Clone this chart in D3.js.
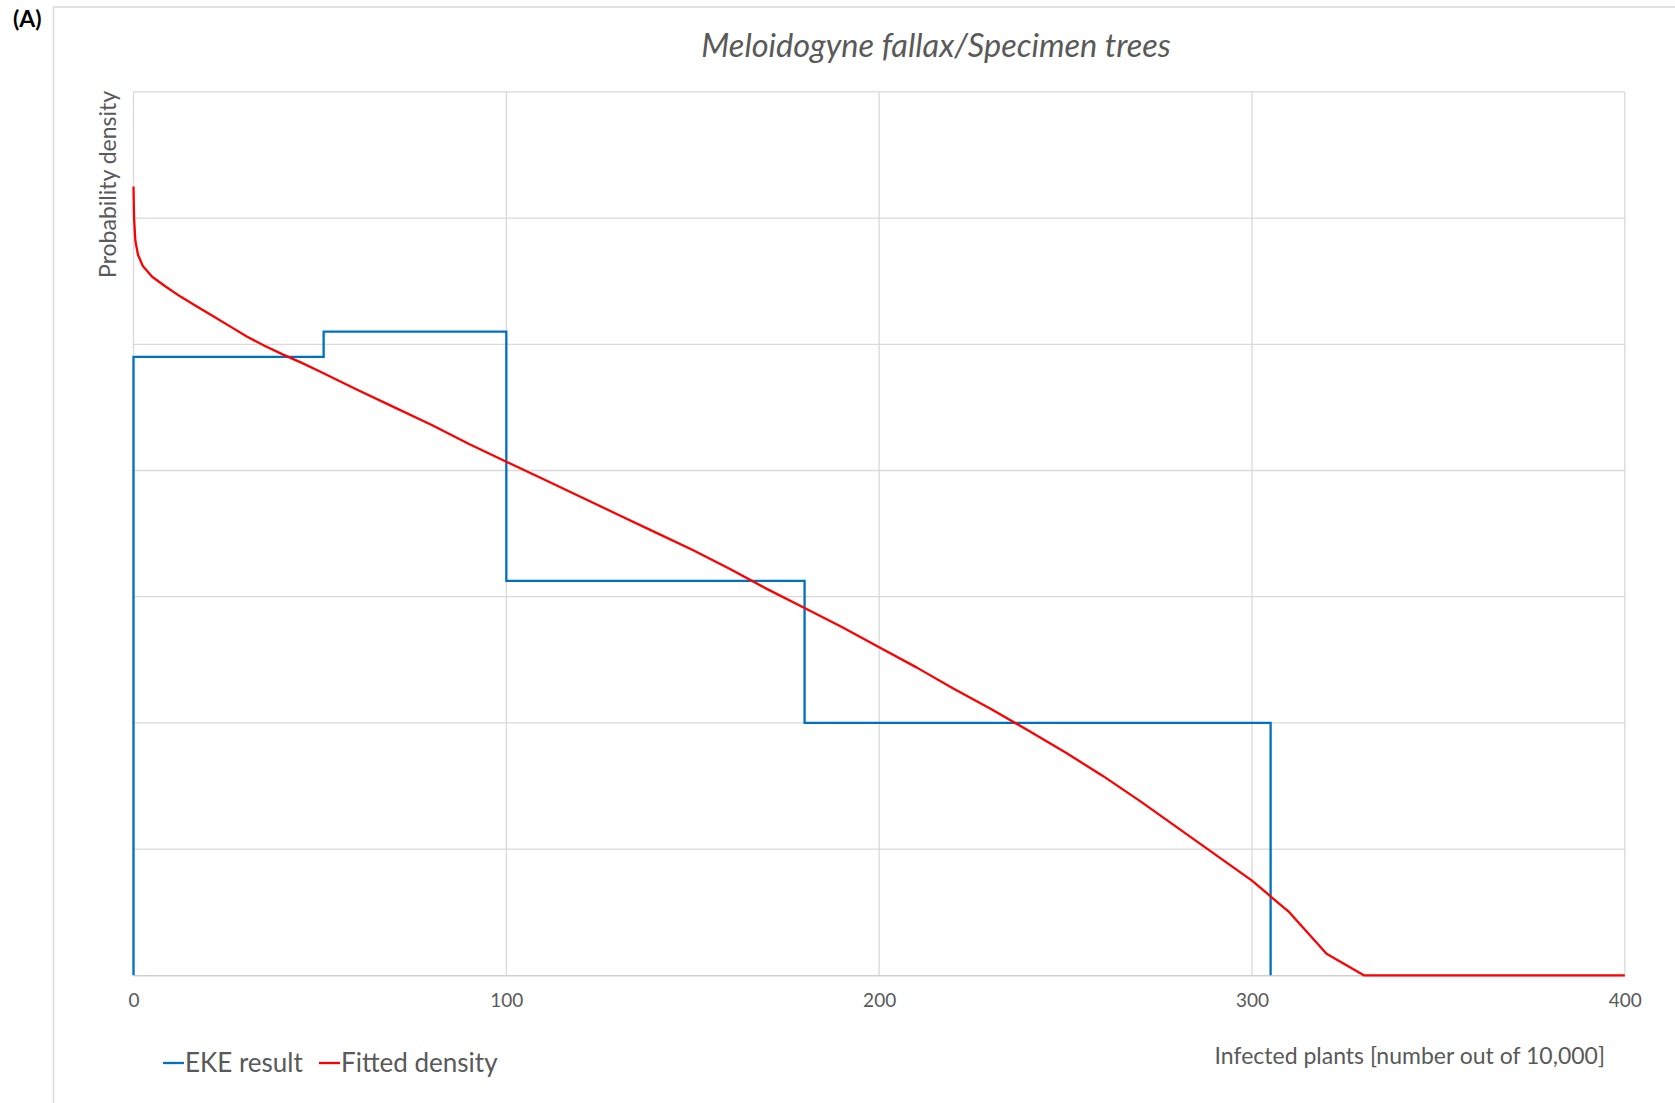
<!DOCTYPE html>
<html>
<head>
<meta charset="utf-8">
<script src="https://cdn.jsdelivr.net/npm/d3@7"></script>
<style>
  html, body { margin: 0; padding: 0; background: #fff; }
  svg { display: block; font-family: Lato, "Open Sans", sans-serif; }
</style>
</head>
<body>
<svg id="svg" width="1675" height="1103"></svg>
<script>
// EKE result: bin edges and density of each bin (25% probability each)
var ekeEdges = [0, 51, 100, 180, 305];
var ekeDensity = [0.0049, 0.0051, 0.003125, 0.002];

// fitted density
var fitX = [0, 0.15, 0.5, 1.2, 2.5, 5, 8.5, 12.5, 17, 21.5, 26, 30.5, 35, 40, 45, 50, 60, 70, 80, 90, 100,
  110, 120, 130, 140, 150, 160, 170, 180, 190, 200, 210, 220, 230, 240, 250, 260, 270,
  280, 290, 300, 310, 320, 330, 340, 350, 360, 370, 380, 390, 400];
var fitY = [0.00625, 0.006, 0.00582, 0.00571, 0.00562, 0.005535, 0.00546, 0.00538, 0.0053,
  0.00522, 0.00514, 0.00506, 0.00499, 0.00492, 0.004855, 0.004785, 0.00464, 0.0045, 0.00436, 0.00421,
  0.00407, 0.00393, 0.00379, 0.00365, 0.00351, 0.00337, 0.00322, 0.00306, 0.00291, 0.00276,
  0.0026, 0.00244, 0.00227, 0.00211, 0.00194, 0.001765, 0.00158, 0.00138, 0.00117, 0.00096,
  0.00075, 0.0005, 0.00017, 0, 0, 0, 0, 0, 0, 0, 0];

var xTicks = [0, 100, 200, 300, 400];
var yTicks = [0, 0.001, 0.002, 0.003, 0.004, 0.005, 0.006, 0.007];

var title = "Meloidogyne fallax/Specimen trees";
var xTitle = "Infected plants [number out of 10,000]";
var yTitle = "Probability density";
var seriesNames = ["EKE result", "Fitted density"];
var seriesColors = ["#0070C0", "#FF0000"];

(function (d3) {
  var svg = d3.select("#svg");
  var textColor = "#595959";
  var gridColor = "#d9d9d9";

  // outer chart frame
  svg.append("rect")
    .attr("x", 53.5).attr("y", 7)
    .attr("width", 1700).attr("height", 1200)
    .attr("fill", "none")
    .attr("stroke", "#d9d9d9")
    .attr("stroke-width", 1.5);

  svg.append("text")
    .attr("x", 13).attr("y", 27)
    .attr("font-size", 23)
    .attr("font-weight", "bold")
    .attr("fill", "#000")
    .text("(A)");

  var x = d3.scaleLinear().domain([0, 400]).range([133.5, 1624.8]);
  var y = d3.scaleLinear().domain([0, 0.007]).range([975.3, 91.9]);

  var grid = svg.append("g").classed("grid", true);
  grid.selectAll("line.h")
    .data(yTicks.slice(1))
    .enter().append("line")
    .attr("x1", x(0)).attr("x2", x(400))
    .attr("y1", d => y(d)).attr("y2", d => y(d))
    .attr("stroke", gridColor)
    .attr("stroke-width", 1.3);
  grid.selectAll("line.v")
    .data(xTicks)
    .enter().append("line")
    .attr("x1", d => x(d)).attr("x2", d => x(d))
    .attr("y1", y(0)).attr("y2", y(0.007))
    .attr("stroke", gridColor)
    .attr("stroke-width", 1.3);

  // x axis (labels only, baseline line)
  var xAxis = svg.append("g")
    .attr("transform", `translate(0,${y(0)})`)
    .call(d3.axisBottom(x).tickValues(xTicks).tickSize(0).tickPadding(18));
  xAxis.select(".domain").attr("stroke", "#cfcfcf").attr("stroke-width", 1.5);
  xAxis.selectAll("text")
    .attr("font-family", "Lato, sans-serif")
    .attr("font-size", 19)
    .attr("fill", textColor);

  // EKE step line
  var ekePts = [[ekeEdges[0], 0]];
  for (var i = 0; i < ekeDensity.length; i++) {
    ekePts.push([ekeEdges[i], ekeDensity[i]]);
    ekePts.push([ekeEdges[i + 1], ekeDensity[i]]);
  }
  ekePts.push([ekeEdges[ekeEdges.length - 1], 0]);

  var line = d3.line()
    .x(d => x(d[0]))
    .y(d => y(d[1]));

  svg.append("path")
    .attr("d", line(ekePts))
    .attr("fill", "none")
    .attr("stroke", seriesColors[0])
    .attr("stroke-width", 2.3);

  var fitPts = fitX.map((v, i) => [v, fitY[i]]);
  svg.append("path")
    .attr("d", line(fitPts))
    .attr("fill", "none")
    .attr("stroke", seriesColors[1])
    .attr("stroke-width", 2.3)
    .attr("stroke-linejoin", "round");

  // titles
  svg.append("text")
    .attr("x", 936).attr("y", 57)
    .attr("text-anchor", "middle")
    .attr("font-size", 32.5)
    .attr("font-style", "italic")
    .attr("fill", textColor)
    .text(title);

  svg.append("text")
    .attr("transform", `translate(116,${y(0.007) - 1}) rotate(-90)`)
    .attr("text-anchor", "end")
    .attr("font-size", 23)
    .attr("fill", textColor)
    .text(yTitle);

  svg.append("text")
    .attr("x", 1605).attr("y", 1064)
    .attr("text-anchor", "end")
    .attr("font-size", 23)
    .attr("fill", textColor)
    .text(xTitle);

  // legend
  var legend = svg.append("g").attr("transform", "translate(163,1063)");
  var lx = [0, 156];
  seriesNames.forEach((name, i) => {
    var g = legend.append("g").attr("transform", `translate(${lx[i]},0)`);
    g.append("line")
      .attr("x1", 0).attr("x2", 21)
      .attr("y1", 0).attr("y2", 0)
      .attr("stroke", seriesColors[i])
      .attr("stroke-width", 2.3);
    g.append("text")
      .attr("x", 22).attr("y", 9)
      .attr("font-size", 26)
      .attr("fill", textColor)
      .text(name);
  });
})(d3);
</script>
</body>
</html>
